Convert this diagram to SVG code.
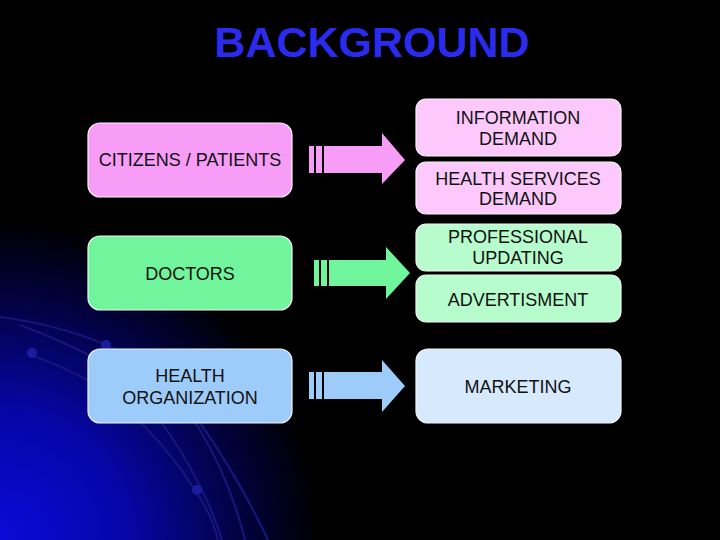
<svg xmlns="http://www.w3.org/2000/svg" width="720" height="540" viewBox="0 0 720 540">
<defs>
<radialGradient id="glow" cx="0" cy="540" r="320" gradientUnits="userSpaceOnUse">
<stop offset="0" stop-color="#0a0ad8"/>
<stop offset="0.4" stop-color="#0606a8"/>
<stop offset="0.75" stop-color="#020240"/>
<stop offset="1" stop-color="#000000"/>
</radialGradient>
<style>
.t{font-family:"Liberation Sans",Arial,sans-serif;font-size:18px;fill:#111;text-anchor:middle}
.box{stroke:#f4f4f4;stroke-width:1.2}
.arc{fill:none;stroke:#15157a;stroke-width:2.2}
.dot{fill:#1c1ca0}
</style>
</defs>
<rect width="720" height="540" fill="#000"/>
<rect width="720" height="540" fill="url(#glow)"/>
<g id="decor">
<path class="arc" d="M0,317 Q60,325 106,345 Q160,370 200,430 Q230,480 245,540"/>
<path class="arc" d="M20,325 Q60,340 93,357 Q140,385 180,450 Q210,500 222,540"/>
<path class="arc" d="M30,355 Q60,365 87,380 Q150,420 195,490 Q212,515 218,540"/>
<path class="arc" d="M200,423 Q240,480 268,540"/>
<circle class="dot" cx="32" cy="353" r="5"/>
<circle class="dot" cx="106" cy="345" r="5"/>
<circle class="dot" cx="197" cy="490" r="5"/>
</g>
<text x="372" y="57" font-family="'Liberation Sans',Arial,sans-serif" font-weight="bold" font-size="43" fill="#2b2bee" text-anchor="middle">BACKGROUND</text>
<g id="citizens">
<rect class="box" x="88" y="123" width="204" height="74" rx="12" fill="#f79cf7"/>
<text class="t" x="190" y="166">CITIZENS / PATIENTS</text>
</g>
<g id="doctors">
<rect class="box" x="88" y="236" width="204" height="74" rx="12" fill="#70f59c"/>
<text class="t" x="190" y="280">DOCTORS</text>
</g>
<g id="healthorg">
<rect class="box" x="88" y="349" width="204" height="74" rx="12" fill="#9dcbfa"/>
<text class="t" x="190" y="382">HEALTH</text>
<text class="t" x="190" y="404">ORGANIZATION</text>
</g>
<g id="infodemand">
<rect class="box" x="416" y="99" width="205" height="57" rx="10" fill="#fdc9fd"/>
<text class="t" x="518" y="124">INFORMATION</text>
<text class="t" x="518" y="145">DEMAND</text>
</g>
<g id="hsdemand">
<rect class="box" x="416" y="162" width="205" height="52" rx="10" fill="#fdc9fd"/>
<text class="t" x="518" y="185">HEALTH SERVICES</text>
<text class="t" x="518" y="205">DEMAND</text>
</g>
<g id="profupdating">
<rect class="box" x="416" y="224" width="205" height="47" rx="10" fill="#b6fccd"/>
<text class="t" x="518" y="243">PROFESSIONAL</text>
<text class="t" x="518" y="264">UPDATING</text>
</g>
<g id="advertisment">
<rect class="box" x="416" y="275" width="205" height="47" rx="10" fill="#b6fccd"/>
<text class="t" x="518" y="306">ADVERTISMENT</text>
</g>
<g id="marketing">
<rect class="box" x="416" y="349" width="205" height="74" rx="12" fill="#d6e9fd"/>
<text class="t" x="518" y="393">MARKETING</text>
</g>
<g id="connectors">
<g fill="#f79cf7">
<rect x="309" y="146" width="5" height="27"/>
<rect x="316" y="146" width="6" height="27"/>
<polygon points="324,146 382,146 382,133 405,160 382,184 382,173 324,173"/>
</g>
<g fill="#70f59c">
<rect x="314" y="260" width="5" height="26"/>
<rect x="321" y="260" width="6" height="26"/>
<polygon points="329,260 386,260 386,247 410,273 386,299 386,286 329,286"/>
</g>
<g fill="#9dcbfa">
<rect x="309" y="372" width="5" height="27"/>
<rect x="316" y="372" width="6" height="27"/>
<polygon points="324,372 382,372 382,360 405,386 382,412 382,399 324,399"/>
</g>
</g>
</svg>
